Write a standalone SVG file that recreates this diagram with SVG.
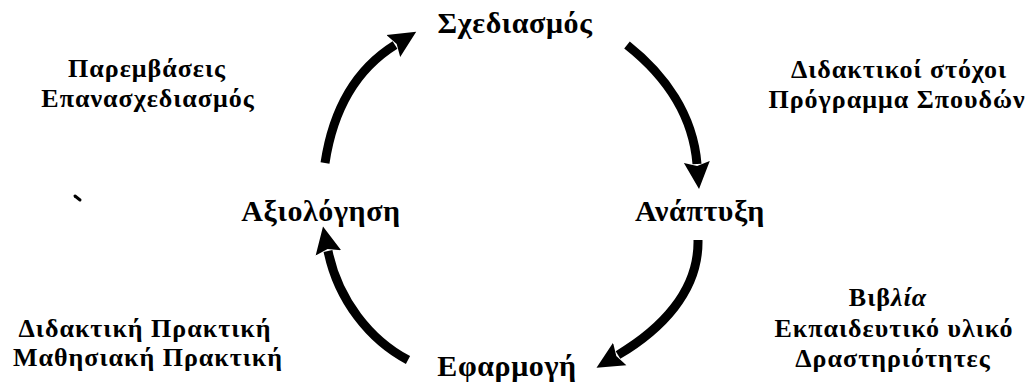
<svg xmlns="http://www.w3.org/2000/svg" width="1029" height="387" viewBox="0 0 1029 387">
  <style>
    .node { font-family: "Liberation Serif", "Times New Roman", serif; font-weight: bold; font-size: 30px; letter-spacing: 0.6px; fill: #000; text-anchor: middle; }
    .lbl { font-family: "Liberation Serif", "Times New Roman", serif; font-weight: bold; font-size: 26px; letter-spacing: 1px; fill: #000; text-anchor: middle; }
    .arc { fill: none; stroke: #000; stroke-width: 9; stroke-linecap: butt; }
  </style>
  <defs>
    <marker id="ah" markerUnits="userSpaceOnUse" markerWidth="30" markerHeight="30" viewBox="0 -15 30 30" refX="2" refY="0" orient="auto">
      <path d="M0,-13 L27,0 L0,13 L4,0 Z" fill="#000"/>
    </marker>
  </defs>
  <rect x="0" y="0" width="1029" height="387" fill="#fff"/>

  <g id="connectors">
    <path class="arc" d="M325,163 C333,110 355,70 395,45" marker-end="url(#ah)"/>
    <path class="arc" d="M627,45 C665,75 693,115 697,164" marker-end="url(#ah)"/>
    <path class="arc" d="M698,240 C699,292 660,330 618,355" marker-end="url(#ah)"/>
    <path class="arc" d="M408,360 C370,340 338,300 328,251" marker-end="url(#ah)"/>
  </g>

  <g id="node-sxediasmos"><text class="node" x="515" y="33">Σχεδιασμός</text></g>
  <g id="node-anaptyxi"><text class="node" x="700" y="221">Ανάπτυξη</text></g>
  <g id="node-efarmogi"><text class="node" x="507" y="376">Εφαρμογή</text></g>
  <g id="node-axiologisi"><text class="node" x="321" y="221">Αξιολόγηση</text></g>

  <g id="label-top-left">
    <text class="lbl" x="147" y="77">Παρεμβάσεις</text>
    <text class="lbl" x="148" y="107">Επανασχεδιασμός</text>
  </g>
  <g id="label-top-right">
    <text class="lbl" x="899" y="78">Διδακτικοί στόχοι</text>
    <text class="lbl" x="897" y="108">Πρόγραμμα Σπουδών</text>
  </g>
  <g id="label-bottom-right">
    <text class="lbl" x="888" y="306">Βιβ<tspan font-style="italic">λία</tspan></text>
    <text class="lbl" x="894" y="337">Εκπαιδευτικό υλικό</text>
    <text class="lbl" x="893" y="367">Δραστηριότητες</text>
  </g>
  <g id="label-bottom-left">
    <text class="lbl" x="145" y="337">Διδακτική Πρακτική</text>
    <text class="lbl" x="148" y="366">Μαθησιακή Πρακτική</text>
  </g>
  <line x1="75" y1="196" x2="80" y2="200" stroke="#000" stroke-width="3" stroke-linecap="round"/>
</svg>
